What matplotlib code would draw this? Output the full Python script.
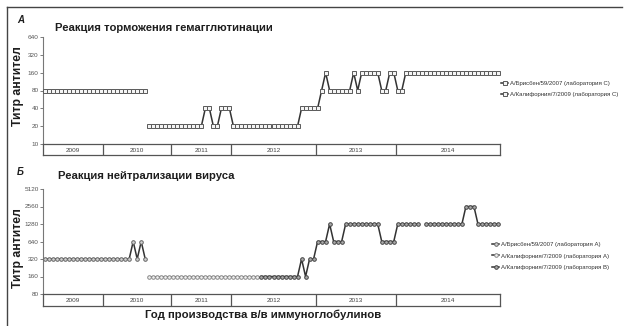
import numpy as np
import matplotlib
matplotlib.use("Agg")
import matplotlib.pyplot as plt
from matplotlib.lines import Line2D

# ---- data -------------------------------------------------------------
years = ["2009", "2010", "2011", "2012", "2013", "2014"]
lots_per_year = [15, 17, 15, 21, 20, 26]

# Haemagglutination inhibition titres (lab C)
hai_brisbane = [80, 80, 80, 80, 80, 80, 80, 80, 80, 80, 80, 80, 80,
                80, 80, 80, 80, 80, 80, 80, 80, 80, 80, 80, 80, 80]
hai_california = [20, 20, 20, 20, 20, 20, 20, 20, 20, 20, 20, 20, 20, 20,
                  40, 40, 20, 20, 40, 40, 40,
                  20, 20, 20, 20, 20, 20, 20, 20, 20, 20, 20, 20, 20, 20, 20, 20, 20,
                  40, 40, 40, 40, 40, 80, 160, 80, 80, 80, 80, 80, 80,
                  160, 80, 160, 160, 160, 160, 160, 80, 80, 160, 160, 80, 80,
                  160, 160, 160, 160, 160, 160, 160, 160, 160, 160, 160, 160,
                  160, 160, 160, 160, 160, 160, 160, 160, 160, 160, 160, 160]

# Virus neutralisation titres
vn_brisbane_a = [320, 320, 320, 320, 320, 320, 320, 320, 320, 320, 320,
                 320, 320, 320, 320, 320, 320, 320, 320, 320, 320, 320,
                 640, 320, 640, 320]
vn_california_a = [160, 160, 160, 160, 160, 160, 160, 160, 160, 160,
                   160, 160, 160, 160, 160, 160, 160, 160, 160, 160,
                   160, 160, 160, 160, 160, 160, 160, 160]
vn_california_b = [160, 160, 160, 160, 160, 160, 160, 160, 160, 160,
                   320, 160, 320, 320, 640, 640, 640, 1280, 640, 640, 640,
                   1280, 1280, 1280, 1280, 1280, 1280, 1280, 1280, 1280,
                   640, 640, 640, 640,
                   1280, 1280, 1280, 1280, 1280, 1280, np.nan,
                   1280, 1280, 1280, 1280, 1280, 1280, 1280, 1280, 1280, 1280,
                   2560, 2560, 2560,
                   1280, 1280, 1280, 1280, 1280, 1280]

hai_ticks = [10, 20, 40, 80, 160, 320, 640]
vn_ticks = [80, 160, 320, 640, 1280, 2560, 5120]

labels_hai = ["А/Брисбен/59/2007 (лаборатория С)",
              "А/Калифорния/7/2009 (лаборатория С)"]
labels_vn = ["А/Брисбен/59/2007 (лаборатория А)",
             "А/Калифорния/7/2009 (лаборатория А)",
             "А/Калифорния/7/2009 (лаборатория В)"]

# ---- figure -----------------------------------------------------------
W, H = 631, 326
fig = plt.figure(figsize=(W / 100, H / 100), dpi=100)
fig.patch.set_facecolor("white")

SANS = ["Liberation Sans", "DejaVu Sans"]
TXT = "#1e1e1e"

N = sum(lots_per_year)


def px_axes(x0, y0, x1, y1):
    return fig.add_axes([x0 / W, 1 - y1 / H, (x1 - x0) / W, (y1 - y0) / H])


def setup_value_axis(ax, ticks):
    ax.set_yscale("log", base=2)
    ax.set_ylim(ticks[0], ticks[-1])
    ax.set_xlim(-0.5, N - 0.5)
    ax.set_yticks(ticks)
    ax.set_yticklabels([str(t) for t in ticks], family=SANS,
                       fontsize=4.6, color="#555555")
    ax.yaxis.set_minor_locator(matplotlib.ticker.NullLocator())
    ax.tick_params(axis="y", length=2, width=0.6, color="#666666", pad=1)
    ax.set_xticks([])
    for s in ("top", "right", "bottom"):
        ax.spines[s].set_visible(False)
    ax.spines["left"].set_color("#777777")
    ax.spines["left"].set_linewidth(0.8)
    ax.patch.set_alpha(0)


def year_band(ax):
    ax.set_xlim(-0.5, N - 0.5)
    ax.set_ylim(0, 1)
    ax.set_xticks([])
    ax.set_yticks([])
    for s in ax.spines.values():
        s.set_color("#555555")
        s.set_linewidth(0.9)
    edges = np.cumsum([0] + lots_per_year) - 0.5
    for e in edges[1:-1]:
        ax.axvline(e, color="#555555", lw=0.9)
    for i, y in enumerate(years):
        ax.text((edges[i] + edges[i + 1]) / 2, 0.45, y, ha="center",
                va="center", fontsize=4.6, family=SANS, color="#444444")


def draw_series(ax, start, values, mfc, mec, marker="s", ms=2.8):
    x = np.arange(start, start + len(values))
    ax.plot(x, values, color="#333333", lw=1.1, marker=marker, ms=ms,
            mfc=mfc, mec=mec, mew=0.7, clip_on=False, zorder=3)


# panel A: haemagglutination inhibition
axA = px_axes(43, 37, 500, 144)
setup_value_axis(axA, hai_ticks)
draw_series(axA, 0, hai_brisbane, "#f4f4f4", "#5a5a5a")
draw_series(axA, len(hai_brisbane), hai_california, "#f4f4f4", "#5a5a5a")
bandA = px_axes(43, 144, 500, 155)
year_band(bandA)

# panel B: virus neutralisation
axB = px_axes(43, 189, 500, 294)
setup_value_axis(axB, vn_ticks)
draw_series(axB, 0, vn_brisbane_a, "#d0d0d0", "#666666", marker="o", ms=2.6)
draw_series(axB, len(vn_brisbane_a), vn_california_a, "#f0f0f0", "#8a8a8a",
            marker="o", ms=2.6)
draw_series(axB, len(vn_brisbane_a) + len(vn_california_a), vn_california_b,
            "#aaaaaa", "#444444", marker="o", ms=2.6)
bandB = px_axes(43, 294, 500, 306)
year_band(bandB)

# legends
hA = [Line2D([], [], color="#333333", lw=1.1, marker="s", ms=2.8,
             mfc="#f4f4f4", mec="#5a5a5a", mew=0.7) for _ in range(2)]
fig.legend(hA, labels_hai, loc="upper left",
           bbox_to_anchor=(500 / W, 1 - 80 / H), frameon=False,
           prop={"family": SANS, "size": 4.3}, handlelength=1.2,
           handletextpad=0.3, labelspacing=0.9, borderaxespad=0,
           borderpad=0.2, labelcolor="#333333")
hB = [Line2D([], [], color="#333333", lw=1.1, marker="o", ms=2.6,
             mfc=f, mec=c, mew=0.7)
      for f, c in (("#d0d0d0", "#666666"), ("#f0f0f0", "#8a8a8a"),
                   ("#aaaaaa", "#444444"))]
fig.legend(hB, labels_vn, loc="upper left",
           bbox_to_anchor=(491 / W, 1 - 241 / H), frameon=False,
           prop={"family": SANS, "size": 4.3}, handlelength=1.2,
           handletextpad=0.3, labelspacing=1.0, borderaxespad=0,
           borderpad=0.2, labelcolor="#333333")

# titles and labels
fig.text(17 / W, 1 - 20 / H, "А", fontsize=7, style="italic",
         weight="bold", family=SANS, va="center", color=TXT)
fig.text(17 / W, 1 - 172 / H, "Б", fontsize=7, style="italic",
         weight="bold", family=SANS, va="center", color=TXT)
fig.text(55 / W, 1 - 28 / H, "Реакция торможения гемагглютинации",
         fontsize=8.1, family=SANS, weight="bold", va="center", color=TXT)
fig.text(58 / W, 1 - 176 / H, "Реакция нейтрализации вируса",
         fontsize=8.1, family=SANS, weight="bold", va="center", color=TXT)
for yc in (86, 248):
    fig.text(18 / W, 1 - yc / H, "Титр антител", rotation=90,
             fontsize=8.8, family=SANS, weight="bold", ha="center",
             va="center", color=TXT)
fig.text(263 / W, 1 - 315 / H, "Год производства в/в иммуноглобулинов",
         fontsize=8.2, family=SANS, weight="bold", ha="center",
         va="center", color=TXT)

# outer frame
fig.add_artist(Line2D([7 / W, 622 / W], [1 - 7 / H, 1 - 7 / H],
                      color="#444444", lw=1.0))
fig.add_artist(Line2D([7 / W, 7 / W], [1 - 7 / H, 0],
                      color="#444444", lw=1.0))

fig.savefig("out.png", dpi=100)
